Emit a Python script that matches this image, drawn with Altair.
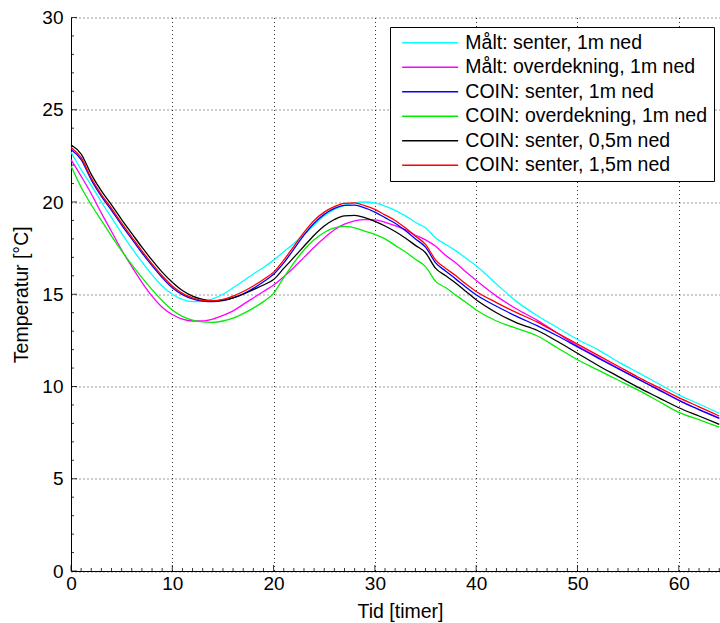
import altair as alt
import pandas as pd

# ---------------- data ----------------
HOURS = list(range(0, 41)) + list(range(42, 65, 2))

SERIES = [
    "Målt: senter, 1m ned",
    "Målt: overdekning, 1m ned",
    "COIN: senter, 1m ned",
    "COIN: overdekning, 1m ned",
    "COIN: senter, 0,5m ned",
    "COIN: senter, 1,5m ned",
]
COLORS = ["#00FFFF", "#FF00FF", "#0000FF", "#00EE00", "#000000", "#FF0000"]

maalt_senter = [
    22.7, 21.75, 20.9, 20.0, 19.15, 18.3, 17.5, 16.75, 16.05, 15.45,
    15.0, 14.72, 14.6, 14.62, 14.75, 15.0, 15.35, 15.72, 16.1, 16.45,
    16.85, 17.3, 17.75, 18.25, 18.75, 19.25, 19.6, 19.82, 19.95, 20.0,
    19.95, 19.78, 19.55, 19.25, 18.9, 18.6, 18.05, 17.7, 17.35, 16.95,
    16.55,
    15.55, 14.6, 13.85, 13.2, 12.55, 12.0, 11.35, 10.75, 10.15, 9.55, 9.05, 8.55,
]
maalt_overdekning = [
    22.3, 21.4, 20.45, 19.4, 18.4, 17.4, 16.5, 15.65, 14.9, 14.3,
    13.9, 13.65, 13.55, 13.55, 13.65, 13.85, 14.1, 14.45, 14.8, 15.15,
    15.5, 15.95, 16.45, 17.0, 17.55, 18.05, 18.5, 18.8, 18.98, 19.05,
    19.03, 18.9, 18.72, 18.5, 18.2, 17.95, 17.6, 17.1, 16.7, 16.2,
    15.75,
    14.9, 14.2, 13.6, 12.9, 12.2, 11.6, 11.0, 10.4, 9.85, 9.27, 8.75, 8.3,
]
coin_senter_1m = [
    22.85, 22.3, 21.2, 20.3, 19.55, 18.75, 18.0, 17.25, 16.55, 15.9,
    15.35, 14.98, 14.75, 14.63, 14.6, 14.65, 14.8, 15.02, 15.32, 15.68,
    16.08, 16.7, 17.45, 18.2, 18.85, 19.33, 19.65, 19.82, 19.83, 19.68,
    19.45, 19.15, 18.85, 18.45, 18.0, 17.55, 16.7, 16.25, 15.82, 15.38,
    14.97,
    14.35, 13.8, 13.3, 12.75, 12.15, 11.55, 10.97, 10.4, 9.82, 9.25, 8.75, 8.27,
]
coin_overdekning = [
    21.95, 20.8, 19.85, 19.0, 18.15, 17.35, 16.6, 15.9, 15.25, 14.65,
    14.15, 13.8, 13.6, 13.5, 13.48, 13.55, 13.7, 13.95, 14.25, 14.6,
    15.05, 15.9, 16.7, 17.4, 17.95, 18.35, 18.6, 18.68, 18.6, 18.42,
    18.25, 18.0, 17.65, 17.3, 16.9, 16.5, 15.7, 15.35, 14.95, 14.55,
    14.15,
    13.55, 13.15, 12.75, 12.1, 11.45, 10.9, 10.35, 9.8, 9.2, 8.6, 8.2, 7.8,
]
coin_senter_05m = [
    23.1, 22.6, 21.5, 20.6, 19.85, 19.05, 18.3, 17.55, 16.85, 16.2,
    15.65, 15.2, 14.9, 14.72, 14.65, 14.68, 14.8, 15.0, 15.25, 15.5,
    15.8, 16.4, 17.0, 17.6, 18.2, 18.7, 19.05, 19.25, 19.27, 19.15,
    18.95, 18.7, 18.4, 18.05, 17.65, 17.25, 16.4, 16.0, 15.6, 15.15,
    14.7,
    14.0, 13.45, 13.05, 12.45, 11.8, 11.15, 10.55, 9.95, 9.4, 8.85, 8.4, 7.95,
]
coin_senter_15m = [
    22.95, 22.4, 21.3, 20.4, 19.65, 18.85, 18.1, 17.35, 16.65, 16.0,
    15.45, 15.05, 14.8, 14.67, 14.65, 14.72, 14.9, 15.15, 15.45, 15.8,
    16.2, 16.85, 17.6, 18.35, 19.0, 19.45, 19.75, 19.92, 19.95, 19.8,
    19.6, 19.3, 19.0, 18.6, 18.15, 17.7, 16.85, 16.4, 16.0, 15.55,
    15.15,
    14.55, 14.0, 13.5, 12.9, 12.3, 11.7, 11.1, 10.5, 9.95, 9.4, 8.9, 8.4,
]

VALUES = [maalt_senter, maalt_overdekning, coin_senter_1m,
          coin_overdekning, coin_senter_05m, coin_senter_15m]

X_TICKS = [0, 10, 20, 30, 40, 50, 60]
Y_TICKS = [0, 5, 10, 15, 20, 25, 30]
X_MINOR = list(range(0, 65))
Y_MINOR = list(range(0, 31))

rows = []
for i, (name, vals) in enumerate(zip(SERIES, VALUES)):
    for t, v in zip(HOURS, vals):
        rows.append({"t": t, "T": v, "serie": name, "ord": i})
df = pd.DataFrame(rows)

# ---------------- chart ----------------
W = 649
H = 553.5
FONT = "Liberation Sans"

xscale = alt.Scale(domain=[0, 64.07], nice=False, zero=False)
yscale = alt.Scale(domain=[0, 30], nice=False, zero=False)

xaxis = alt.Axis(values=X_TICKS, title="Tid [timer]", labelPadding=3, labelFlush=False,
                 titleX=329, titleY=31, titleBaseline="top", titleAnchor="middle")
yaxis = alt.Axis(values=Y_TICKS, title="Temperatur [°C]", labelPadding=8, labelFlush=False,
                 titleX=-40, titleY=H / 2)

lines = alt.Chart(df).mark_line(strokeWidth=1.3, interpolate="monotone").encode(
    x=alt.X("t:Q", scale=xscale, axis=xaxis),
    y=alt.Y("T:Q", scale=yscale, axis=yaxis),
    color=alt.Color("serie:N",
                    scale=alt.Scale(domain=SERIES, range=COLORS),
                    legend=alt.Legend(
                        title=None, orient="none", legendX=319, legendY=9.5,
                        direction="vertical",
                        strokeColor="black", fillColor="white", padding=6,
                        symbolType="M-5,0H5", symbolSize=125.44,
                        symbolStrokeWidth=1.5, symbolOffset=24.4,
                        labelOffset=25.4, labelFontSize=19.5, labelFont=FONT,
                        labelColor="black", rowPadding=3.5, labelLimit=400,
                        cornerRadius=0)),
    order=alt.Order("ord:Q"),
)

xt_df = pd.DataFrame({"t": X_MINOR, "L": [6 if v % 10 == 0 else 3 for v in X_MINOR]})
yt_df = pd.DataFrame({"T": Y_MINOR, "L": [6 if v % 5 == 0 else 3 for v in Y_MINOR]})

xminor = alt.Chart(xt_df).transform_filter("datum.L == 3").mark_rule(
    color="black", strokeWidth=0.8).encode(
    x=alt.X("t:Q", scale=xscale, axis=xaxis),
    y=alt.value(H), y2=alt.value(H - 3))
xmajor = alt.Chart(xt_df).transform_filter("datum.L == 6").mark_rule(
    color="black", strokeWidth=0.8).encode(
    x=alt.X("t:Q", scale=xscale, axis=xaxis),
    y=alt.value(H), y2=alt.value(H - 6))
yminor = alt.Chart(yt_df).transform_filter("datum.L == 3").mark_rule(
    color="black", strokeWidth=0.8).encode(
    y=alt.Y("T:Q", scale=yscale, axis=yaxis),
    x=alt.value(0), x2=alt.value(3))
ymajor = alt.Chart(yt_df).transform_filter("datum.L == 6").mark_rule(
    color="black", strokeWidth=0.8).encode(
    y=alt.Y("T:Q", scale=yscale, axis=yaxis),
    x=alt.value(0), x2=alt.value(6))

chart = alt.layer(lines, xminor, xmajor, yminor, ymajor).properties(
    width=W, height=H,
    autosize=alt.AutoSizeParams(type="none"),
    padding={"left": 71, "top": 17.5, "right": 0, "bottom": 52},
    background="white",
).configure_view(stroke=None).configure_axis(
    domainColor="black", domainWidth=1, ticks=False,
    grid=True, gridColor="black", gridDash=[1, 3], gridWidth=1, gridOpacity=0.8,
    labelFont=FONT, labelFontSize=19, labelColor="black",
    titleFont=FONT, titleFontSize=19.5, titleColor="black", titleFontWeight="normal",
)

chart.save("out.html", embed_options={"renderer": "svg", "actions": False})
